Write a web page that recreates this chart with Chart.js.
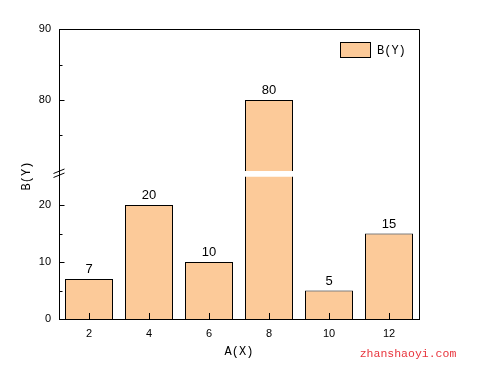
<!DOCTYPE html>
<html>
<head>
<meta charset="utf-8">
<script src="https://cdn.jsdelivr.net/npm/chart.js@4.4.0/dist/chart.umd.min.js"></script>
<style>
  html, body { margin: 0; padding: 0; background: #fff; }
  #wrap { width: 479px; height: 370px; }
</style>
</head>
<body>
<div id="wrap"><canvas id="barChart" width="479" height="370"></canvas></div>
<script>
const categories = ['2', '4', '6', '8', '10', '12'];
const values = [7, 20, 10, 80, 5, 15];
const lowTicks = [0, 10, 20];
const highTicks = [80, 90];
const lowMinor = [5, 15];
const highMinor = [75, 85];
const breakFrom = 25;
const breakTo = 70;

const barColor = 'rgb(252, 202, 153)';
const monoFont = '12px "Liberation Mono", monospace';

const lowData = values.map(v => Math.min(v, breakFrom));
const highData = values.map(v => v > breakTo ? [breakTo, v] : null);

const decorations = {
    id: 'decorations',
    afterDatasetsDraw(chart) {
        const ctx = chart.ctx;
        const area = chart.chartArea;
        const x = chart.scales.x;
        const yLow = chart.scales.yLow;
        const yHigh = chart.scales.yHigh;
        ctx.save();
        ctx.strokeStyle = '#000';
        ctx.lineWidth = 1;
        ctx.beginPath();
        // frame top and right
        ctx.moveTo(area.left, Math.round(area.top) + 0.5);
        ctx.lineTo(Math.round(area.right) + 0.5, Math.round(area.top) + 0.5);
        ctx.lineTo(Math.round(area.right) + 0.5, Math.round(area.bottom) + 1);
        // inner tick marks
        const left = Math.round(area.left) + 0.5;
        const tick = (scale, v, len) => {
            const py = Math.round(scale.getPixelForValue(v)) + 0.5;
            ctx.moveTo(left, py);
            ctx.lineTo(left + len, py);
        };
        lowTicks.forEach(v => tick(yLow, v, 5));
        highTicks.forEach(v => tick(yHigh, v, 5));
        lowMinor.forEach(v => tick(yLow, v, 3));
        highMinor.forEach(v => tick(yHigh, v, 3));
        categories.forEach((c, i) => {
            const px = Math.round(x.getPixelForValue(i)) + 0.5;
            ctx.moveTo(px, area.bottom);
            ctx.lineTo(px, area.bottom - 6);
        });
        ctx.stroke();

        // axis break marks
        const by = yLow.top;
        ctx.beginPath();
        ctx.moveTo(left - 6, by - 0.5);
        ctx.lineTo(left + 5, by - 5);
        ctx.moveTo(left - 6, by + 3.5);
        ctx.lineTo(left + 5, by - 1);
        ctx.stroke();
        ctx.restore();
    },
    afterDraw(chart) {
        const ctx = chart.ctx;
        const area = chart.chartArea;
        const lowMeta = chart.getDatasetMeta(0);
        const highMeta = chart.getDatasetMeta(1);
        ctx.save();
        ctx.fillStyle = '#000';
        ctx.font = '13px "Liberation Sans", sans-serif';
        ctx.textAlign = 'center';
        ctx.textBaseline = 'alphabetic';
        values.forEach((v, i) => {
            const el = highData[i] ? highMeta.data[i] : lowMeta.data[i];
            ctx.fillText(String(v), el.x, el.y - 6);
        });

        // axis titles
        ctx.font = monoFont;
        ctx.textBaseline = 'middle';
        ctx.fillText('A(X)', (area.left + area.right) / 2, 352);
        ctx.save();
        ctx.translate(27, 176);
        ctx.rotate(-Math.PI / 2);
        ctx.fillText('B(Y)', 0, 0);
        ctx.restore();

        // legend
        ctx.fillStyle = barColor;
        ctx.fillRect(340, 42, 31, 16);
        ctx.strokeStyle = '#000';
        ctx.lineWidth = 1;
        ctx.strokeRect(340.5, 42.5, 30, 15);
        ctx.fillStyle = '#000';
        ctx.textAlign = 'left';
        ctx.fillText(chart.data.datasets[0].label, 377, 50.5);

        // watermark
        ctx.fillStyle = '#e8343c';
        ctx.font = '11.5px "Liberation Mono", monospace';
        ctx.textAlign = 'center';
        ctx.fillText('zhanshaoyi.com', 408, 354);
        ctx.restore();
    }
};

const tickFont = { family: 'Liberation Sans', size: 11 };

const config = {
    type: 'bar',
    data: {
        labels: categories,
        datasets: [{
            label: 'B(Y)',
            data: lowData,
            yAxisID: 'yLow',
            backgroundColor: barColor,
            borderColor: '#000',
            borderWidth: function(c) {
                return values[c.dataIndex] > breakFrom ? { top: 0, left: 1, right: 1, bottom: 0 } : 1;
            },
            grouped: false,
            barPercentage: 0.8,
            categoryPercentage: 1.0
        }, {
            label: 'B(Y)',
            data: highData,
            yAxisID: 'yHigh',
            backgroundColor: barColor,
            borderColor: '#000',
            borderWidth: 1,
            grouped: false,
            barPercentage: 0.8,
            categoryPercentage: 1.0
        }]
    },
    options: {
        responsive: false,
        animation: false,
        layout: {
            padding: { top: 29, right: 60, left: 0, bottom: 0 }
        },
        scales: {
            x: {
                grid: { display: false, drawTicks: false },
                border: { display: true, color: '#000', width: 1 },
                ticks: { color: '#000', font: tickFont, padding: 8, maxRotation: 0 },
                afterFit: function(s) { s.height = 51; }
            },
            yLow: {
                type: 'linear',
                position: 'left',
                stack: 'yaxis',
                stackWeight: 1,
                min: 0,
                max: 145 / 5.7,
                grid: { display: false, drawTicks: false },
                border: { display: true, color: '#000', width: 1 },
                ticks: { color: '#000', font: tickFont, padding: 8 },
                afterBuildTicks: function(s) { s.ticks = lowTicks.map(v => ({ value: v })); },
                afterFit: function(s) { s.width = 59; }
            },
            yHigh: {
                type: 'linear',
                position: 'left',
                stack: 'yaxis',
                stackWeight: 1,
                min: 90 - 145 / 7.1,
                max: 90,
                grid: { display: false, drawTicks: false },
                border: { display: true, color: '#000', width: 1 },
                ticks: { color: '#000', font: tickFont, padding: 8 },
                afterBuildTicks: function(s) { s.ticks = highTicks.map(v => ({ value: v })); },
                afterFit: function(s) { s.width = 59; }
            }
        },
        plugins: {
            legend: { display: false },
            tooltip: { enabled: false }
        }
    },
    plugins: [decorations]
};

const ctx = document.getElementById('barChart').getContext('2d');
new Chart(ctx, config);
</script>
</body>
</html>
